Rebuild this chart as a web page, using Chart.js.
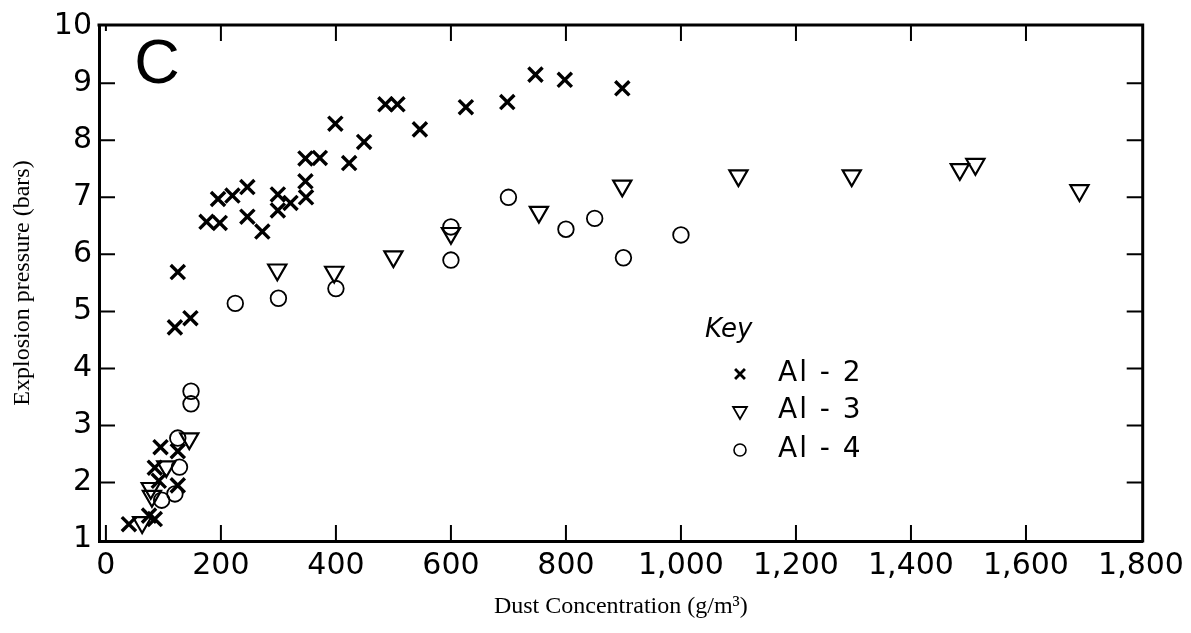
<!DOCTYPE html>
<html>
<head>
<meta charset="utf-8">
<title>Explosion pressure vs dust concentration</title>
<script src="https://cdn.jsdelivr.net/npm/chart.js@4/dist/chart.umd.min.js"></script>
<style>
  html, body { margin: 0; padding: 0; background: #fff; }
  #wrap { width: 1191px; height: 633px; }
</style>
</head>
<body>
<div id="wrap"><canvas id="chart" width="1191" height="633"></canvas></div>
<script>
// Series labels
const seriesNames = ["Al-2", "Al-3", "Al-4"];

// Al-2 (x marks): dust concentration (g/m3) and explosion pressure (bars)
const al2Conc = [40, 75, 85, 85, 92, 95, 125, 125, 120, 125, 147, 175, 198, 195, 220, 246, 246, 272,
                 299, 299, 321, 347, 347, 348, 372, 399, 423, 449, 486, 507, 546, 626, 698, 747, 798, 898];
const al2Pressure = [1.27, 1.42, 1.36, 2.26, 2.03, 2.62, 2.55, 1.95, 4.72, 5.69, 4.88, 6.57, 6.55, 6.97, 7.03, 7.18, 6.66, 6.40,
                     7.05, 6.77, 6.90, 7.68, 7.28, 7.00, 7.69, 8.29, 7.60, 7.97, 8.63, 8.63, 8.19, 8.58, 8.67, 9.15, 9.06, 8.91];

// Al-3 (triangles)
const al3Conc = [63, 78, 80, 105, 145, 298, 397, 500, 600, 753, 898, 1100, 1297, 1485, 1512, 1693];
const al3Pressure = [1.30, 1.90, 1.76, 2.28, 2.77, 5.73, 5.69, 5.96, 6.37, 6.74, 7.20, 7.38, 7.38, 7.49, 7.58, 7.12];

// Al-4 (circles)
const al4Conc = [97, 120, 128, 125, 148, 148, 225, 300, 400, 600, 600, 700, 800, 850, 900, 1000];
const al4Pressure = [1.69, 1.80, 2.27, 2.78, 3.38, 3.60, 5.14, 5.23, 5.40, 5.90, 6.48, 7.00, 6.44, 6.63, 5.94, 6.34];

// Axis ticks
const xTickValues = [0, 200, 400, 600, 800, 1000, 1200, 1400, 1600, 1800];
const yTickValues = [1, 2, 3, 4, 5, 6, 7, 8, 9, 10];

function toPoints(xs, ys) {
    return xs.map(function (x, i) { return { x: x, y: ys[i] }; });
}

const markerStyles = [
    { pointStyle: "crossRot", radius: 10, borderWidth: 3.4, rotation: 0 },
    { pointStyle: "triangle", radius: 10.5, borderWidth: 2.2, rotation: 180 },
    { pointStyle: "circle", radius: 7.8, borderWidth: 1.8, rotation: 0 }
];

const legendStyles = [
    { pointStyle: "crossRot", radius: 7, borderWidth: 2.8, rotation: 0 },
    { pointStyle: "triangle", radius: 8, borderWidth: 1.8, rotation: 180 },
    { pointStyle: "circle", radius: 6, borderWidth: 1.6, rotation: 0 }
];

function makeDataset(i, xs, ys) {
    const m = markerStyles[i];
    return {
        label: seriesNames[i],
        data: toPoints(xs, ys),
        showLine: false,
        pointStyle: m.pointStyle,
        pointRadius: m.radius,
        pointBorderWidth: m.borderWidth,
        pointRotation: m.rotation,
        pointBorderColor: "#000",
        pointBackgroundColor: "rgba(0,0,0,0)",
        borderColor: "#000",
        backgroundColor: "rgba(0,0,0,0)"
    };
}

// Frame, inward ticks, panel letter and the key
const framePlugin = {
    id: "frame",
    afterDatasetsDraw(chart) {
        const ctx = chart.ctx;
        const area = chart.chartArea;
        const xs = chart.scales.x;
        const ys = chart.scales.y;
        ctx.save();
        ctx.strokeStyle = "#000";
        ctx.lineCap = "butt";

        // top and right edges of the box
        ctx.lineWidth = 3;
        ctx.beginPath();
        ctx.moveTo(area.left - 1.5, area.top);
        ctx.lineTo(area.right, area.top);
        ctx.lineTo(area.right, area.bottom + 1.5);
        ctx.stroke();

        // inward tick marks
        ctx.lineWidth = 2;
        const len = 16;
        ctx.beginPath();
        xTickValues.forEach(function (v) {
            const px = xs.getPixelForValue(v);
            if (px <= area.left + 2 || px >= area.right - 2) return;
            ctx.moveTo(px, area.bottom);
            ctx.lineTo(px, area.bottom - len);
            ctx.moveTo(px, area.top);
            ctx.lineTo(px, area.top + (v === 0 ? 6 : len));
        });
        yTickValues.forEach(function (v) {
            const py = ys.getPixelForValue(v);
            if (py <= area.top + 2 || py >= area.bottom - 2) return;
            ctx.moveTo(area.left, py);
            ctx.lineTo(area.left + len, py);
            ctx.moveTo(area.right, py);
            ctx.lineTo(area.right - len, py);
        });
        ctx.stroke();

        // panel letter
        ctx.fillStyle = "#000";
        ctx.font = "63px 'Liberation Sans', Arial, sans-serif";
        ctx.textAlign = "center";
        ctx.textBaseline = "middle";
        ctx.fillText("C", 157, 66);

        // key
        ctx.textAlign = "left";
        ctx.textBaseline = "alphabetic";
        ctx.font = "italic 26px 'DejaVu Sans', sans-serif";
        ctx.fillText("Key", 705, 337);

        ctx.font = "28px 'DejaVu Sans', sans-serif";
        ctx.letterSpacing = "2px";
        ctx.textBaseline = "middle";
        const rows = [374, 411, 450];
        seriesNames.forEach(function (name, i) {
            const s = legendStyles[i];
            if (Chart.helpers && Chart.helpers.drawPoint) {
                ctx.lineWidth = s.borderWidth;
                ctx.strokeStyle = "#000";
                ctx.fillStyle = "rgba(0,0,0,0)";
                Chart.helpers.drawPoint(ctx, s, 740, rows[i]);
            }
            ctx.fillStyle = "#000";
            ctx.fillText(name.replace("-", " - "), 778, rows[i]);
        });
        ctx.restore();
    }
};

const ctx = document.getElementById("chart").getContext("2d");
const chart = new Chart(ctx, {
    type: "scatter",
    data: {
        datasets: [
            makeDataset(0, al2Conc, al2Pressure),
            makeDataset(1, al3Conc, al3Pressure),
            makeDataset(2, al4Conc, al4Pressure)
        ]
    },
    options: {
        responsive: false,
        animation: false,
        layout: { padding: { left: 0, right: 46, top: 18, bottom: 0 } },
        plugins: {
            legend: { display: false },
            tooltip: { enabled: false }
        },
        scales: {
            x: {
                type: "linear",
                min: -12,
                max: 1803,
                grid: { display: false, drawTicks: false },
                border: { display: true, color: "#000", width: 3 },
                afterBuildTicks: function (scale) {
                    scale.ticks = xTickValues.map(function (v) { return { value: v }; });
                },
                afterFit: function (scale) { scale.height = 92; },
                ticks: {
                    color: "#000",
                    padding: 7,
                    maxRotation: 0,
                    autoSkip: false,
                    font: { family: "'DejaVu Sans', sans-serif", size: 30 },
                    callback: function (v) { return v.toLocaleString("en-US"); }
                },
                title: {
                    display: true,
                    text: "Dust Concentration (g/m\u00b3)",
                    color: "#000",
                    padding: { top: 0, bottom: 12 },
                    font: { family: "'Liberation Serif', 'Times New Roman', serif", size: 24 }
                }
            },
            y: {
                type: "linear",
                min: 0.975,
                max: 10.02,
                grid: { display: false, drawTicks: false },
                border: { display: true, color: "#000", width: 3 },
                afterBuildTicks: function (scale) {
                    scale.ticks = yTickValues.map(function (v) { return { value: v }; });
                },
                afterFit: function (scale) { scale.width = 99; },
                ticks: {
                    color: "#000",
                    padding: 7,
                    autoSkip: false,
                    font: { family: "'DejaVu Sans', sans-serif", size: 30 }
                },
                title: {
                    display: true,
                    text: "Explosion pressure (bars)",
                    color: "#000",
                    padding: { top: 8, bottom: 0 },
                    font: { family: "'Liberation Serif', 'Times New Roman', serif", size: 24 }
                }
            }
        }
    },
    plugins: [framePlugin]
});
</script>
</body>
</html>
